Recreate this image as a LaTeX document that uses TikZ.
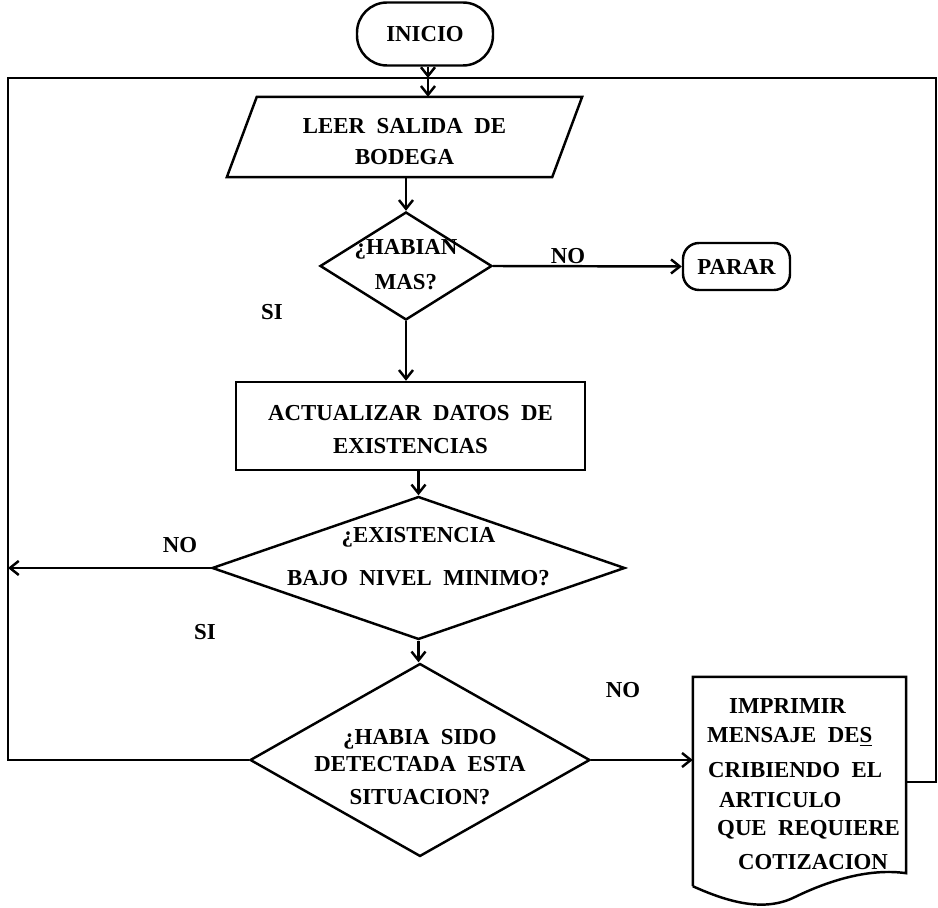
\documentclass[tikz,border=0pt]{standalone}
\usepackage{fontspec}
\setmainfont{Liberation Serif}[WordSpace=2]
\usetikzlibrary{arrows.meta,shapes.geometric,calc}

\begin{document}
\begin{tikzpicture}[x=0.02cm,y=-0.02cm,line width=1.4pt,
  txt/.style={font=\bfseries\fontsize{13}{15.5}\selectfont,inner sep=0pt,align=center},
  arr/.style={-{Straight Barb[length=5pt,width=8pt]}},
  term/.style={txt,draw,rectangle,rounded corners=#1},
  procbox/.style={draw,rectangle},
  decision/.style={draw,diamond,inner sep=0pt},
  plain/.style={rectangle}]
\useasboundingbox (0,0) rectangle (938,908);

% start / stop terminals
\node[term=0.6cm,minimum width=2.72cm,minimum height=1.26cm] (inicio) at (425,34) {INICIO};
\node[term=0.32cm,minimum width=2.14cm,minimum height=0.94cm] (parar) at (736.5,266.5) {PARAR};

% loop junction on the top return line
\coordinate (j) at (428,78);
\coordinate (lt) at (8,78);
\coordinate (rt) at (936,78);

% input: read warehouse issue
\node[plain,minimum width=6.46cm,minimum height=1.56cm] (leer) at (404.5,137) {};
\draw ($(leer.north west)+(15,0)$) -- ($(leer.north east)+(15,0)$)
   -- ($(leer.south east)+(-15,0)$) -- ($(leer.south west)+(-15,0)$) -- cycle;
\node[txt] (leert) at ($(leer.center)+(0,5)$) {LEER SALIDA DE\\[2.1pt]BODEGA};

% decisions (shape and wording as separate nodes) and process
\node[decision,minimum width=3.44cm,minimum height=2.16cm] (d1) at (406,266) {};
\node[txt] (d1t) at ($(d1.center)+(0,-1)$) {¿HABIAN\\[4.3pt]MAS?};
\node[procbox,minimum width=6.98cm,minimum height=1.76cm] (act) at (410.5,426) {};
\node[txt] (actt) at ($(act.center)+(0,4)$) {ACTUALIZAR DATOS DE\\[3.3pt]EXISTENCIAS};
\node[decision,minimum width=8.26cm,minimum height=2.86cm] (d2) at (418.5,568) {};
\node[txt] (d2t) at ($(d2.center)+(0,-11)$) {¿EXISTENCIA\\[8.9pt]BAJO NIVEL MINIMO?};
\node[decision,minimum width=6.8cm,minimum height=3.86cm] (d3) at (420,760) {};
\node[txt] (d3t) at ($(d3.center)+(0,7)$) {¿HABIA SIDO\\[0pt]DETECTADA ESTA\\[3.5pt]SITUACION?};

% printed report (document symbol)
\node[plain,minimum width=4.22cm,minimum height=3.88cm] (doc) at (799.5,775) {};
\draw ($(doc.south west)+(0,13)$) -- (doc.north west) -- (doc.north east) -- (doc.south east)
  .. controls (870,868) and (830,880) .. (795,897)
  .. controls (765,912) and (730,903) .. ($(doc.south west)+(0,13)$);
\node[txt,anchor=west] (l1) at (728,706) {IMPRIMIR};
\node[txt,anchor=west] (l2) at (706,737) {MENSAJE DE\underline{S}};
\node[txt,anchor=west] (l3) at (707,770) {CRIBIENDO EL};
\node[txt,anchor=west] (l4) at (718,800) {ARTICULO};
\node[txt,anchor=west] (l5) at (716,830) {QUE REQUIERE};
\node[txt,anchor=west] (l6) at (737,862) {COTIZACION};

% branch labels
\node[txt] (no1) at (568,256) {NO};
\node[txt] (si1) at (272,312) {SI};
\node[txt] (no2) at (180,545) {NO};
\node[txt] (si2) at (205,632) {SI};
\node[txt] (no3) at (623,690) {NO};

% main flow
\draw[arr] (inicio.south -| j) -- (j);
\draw[arr] (j) -- (j |- leer.north);
\draw[arr] (leer.south -| d1.north) -- (d1.north);
\draw[arr] (d1.east) -- (parar.west);
\draw[arr] (d1.south) -- (d1.south |- act.north);
\draw[arr] (act.south -| d2.north) -- (d2.north);
\draw[arr] (d2.south) -- (d2.south |- d3.north);
\draw[arr] (d3.east) -- (d3.east -| doc.west);

% return paths to the top of the loop
\draw[arr] (d2.west) -- (d2.west -| lt);
\draw (d3.west) -| (lt) -- (j);
\coordinate (cr) at (936,782);
\draw (cr -| doc.east) -- (cr) -- (rt) -- (j);
\end{tikzpicture}
\end{document}
